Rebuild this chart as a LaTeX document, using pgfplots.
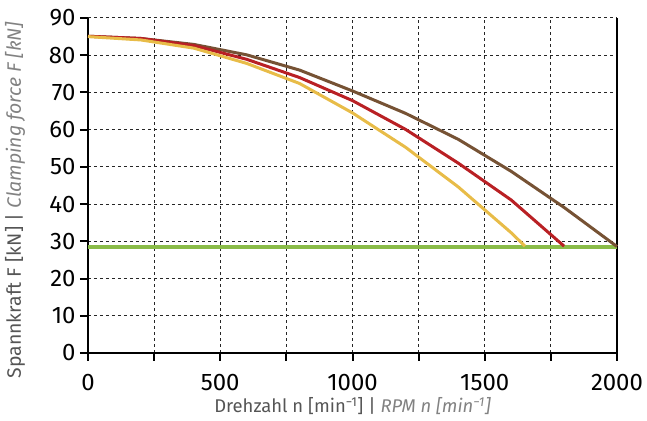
\documentclass[border=0pt]{standalone}
\usepackage{pgfplots}
\pgfplotsset{compat=1.18}
\usepackage{fontspec}
\setmainfont{Fira Sans}
\definecolor{cbrown}{RGB}{118,82,52}
\definecolor{cred}{RGB}{185,32,36}
\definecolor{cyellow}{RGB}{232,188,72}
\definecolor{cgreen}{RGB}{138,188,72}
\definecolor{labgray}{RGB}{85,85,85}
\definecolor{labgray2}{RGB}{130,130,130}
\begin{document}
\begin{tikzpicture}
\begin{axis}[
  scale only axis,
  width=529bp, height=335bp,
  xmin=0, xmax=2000, ymin=0, ymax=90,
  axis x line=bottom, axis y line=box,
  axis line style={-, line width=2.4bp, black},
  xtick={0,250,...,2000},
  xticklabels={0,,500,,1000,,1500,,2000},
  ytick={0,10,...,90},
  ytick pos=left,
  tick align=outside,
  major tick length=8bp,
  tick style={line width=2bp, black},
  grid=major,
  major grid style={black!85, line width=1bp, dash pattern=on 3bp off 3bp},
  /pgf/number format/assume math mode=true,
  ticklabel style={font=\fontsize{24}{28}\selectfont},
  xticklabel style={yshift=-10bp},
  yticklabel style={xshift=-1bp},
  xlabel={\textcolor{labgray}{Drehzahl n [min\textsuperscript{−1}] |} \textcolor{labgray2}{\itshape RPM n [min\textsuperscript{−1}]}},
  ylabel={\textcolor{labgray}{Spannkraft F [kN] |} \textcolor{labgray2}{\itshape Clamping force F [kN]}},
  xlabel style={font=\fontsize{18.5}{20}\selectfont, at={(axis description cs:0.5,-0.179)}, anchor=base},
  ylabel style={font=\fontsize{19.5}{21}\selectfont, at={(axis description cs:-0.1267,0.456)}, anchor=base},
  clip=false,
]
\addplot[cgreen, line width=3.8bp] coordinates {(0,28.5) (2000,28.5)};
\addplot[cbrown, line width=3bp] coordinates {
(0,85.1) (200,84.5) (400,82.9) (600,80.1) (800,76.0) (1000,70.4) (1200,64.4) (1400,57.4) (1600,48.8) (1800,39.1) (2000,28.6)};
\addplot[cred, line width=3bp] coordinates {
(0,85.1) (200,84.5) (400,82.6) (600,78.9) (800,74.0) (1000,67.8) (1200,60.1) (1400,51.0) (1600,41.1) (1800,28.7)};
\addplot[cyellow, line width=3bp] coordinates {
(0,85.0) (200,84.1) (400,81.9) (600,77.8) (800,72.4) (1000,64.5) (1200,55.3) (1400,44.6) (1600,32.3) (1652,28.7)};
\end{axis}
\pgfresetboundingbox
\path[use as bounding box] ([shift={(-88bp,-68bp)}]current axis.south west) rectangle ([shift={(30bp,18bp)}]current axis.north east);
\end{tikzpicture}
\end{document}
